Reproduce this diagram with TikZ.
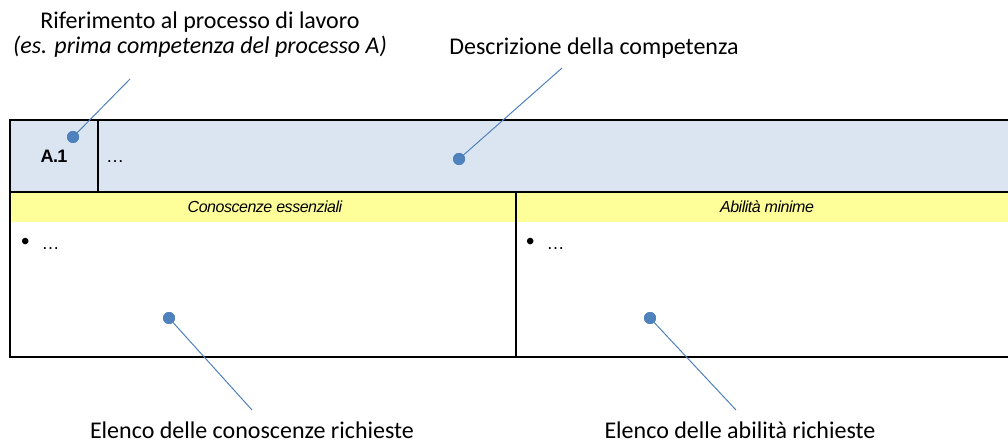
\documentclass[tikz,border=0pt]{standalone}
\usepackage{fontspec}
\setmainfont{Carlito}
\newfontfamily\arialfont{Liberation Sans}
\newfontfamily\arialtight[LetterSpace=-3]{Liberation Sans}
\usetikzlibrary{positioning}
\definecolor{cellblue}{HTML}{DBE5F1}
\definecolor{cellyellow}{HTML}{FFFF99}
\definecolor{pinblue}{HTML}{4F81BD}
\newcommand{\bigbullet}{{\fontsize{24}{24}\selectfont\textbullet}}
\tikzset{
  tableline/.style={line width=1.2pt, black},
  pindot/.style={circle, fill=pinblue, inner sep=0pt, minimum size=12pt},
  pinline/.style={pinblue, line width=1pt},
  remark/.style={font=\fontsize{24}{25}\selectfont, align=center, inner sep=0pt},
  cell/.style={font=\arialfont\fontsize{18}{20}\selectfont, inner sep=0pt},
  cellhead/.style={font=\arialtight\itshape\fontsize{16}{18}\selectfont, inner sep=0pt},
}

\begin{document}
\begin{tikzpicture}[x=1pt, y=-1pt]
    \useasboundingbox (0,0) rectangle (1008,443);
    % Table: fills
    \fill[cellblue] (10,120) rectangle (1008,192);
    \fill[cellyellow] (10,192) rectangle (1008,222);
    % Table: lines
    \draw[tableline] (1008,120) -- (10,120) -- (10,357) -- (1008,357);
    \draw[tableline] (10,192) -- (1008,192);
    \draw[tableline] (98,120) -- (98,192);
    \draw[tableline] (516,192) -- (516,357);
    % Table: texts
    \node[cell, font=\arialtight\bfseries\fontsize{18}{20}\selectfont] (code) at (54,156) {A.1};
    \node[cell, anchor=base west] (descr) at (106,163) {…};
    \node[cellhead] (know) at (265,207) {Conoscenze essenziali};
    \node[cellhead] (skill) at (767,207) {Abilità minime};
    \node[cell, anchor=base west] (knowitem) at (21,250) {\bigbullet\hspace{12pt}…};
    \node[cell, anchor=base west] (skillitem) at (526,250) {\bigbullet\hspace{12pt}…};
    % Callouts
    \node[remark] (ref) at (200,35) {Riferimento al processo di lavoro\\\textit{(es. prima competenza del processo A)}};
    \node[remark, anchor=base] (descrnote) at (594,55) {Descrizione della competenza};
    \node[remark, anchor=base] (knownote) at (252,438) {Elenco delle conoscenze richieste};
    \node[remark, anchor=base] (skillnote) at (740,438) {Elenco delle abilità richieste};
    \coordinate (refend) at (130,79);
    \coordinate (descrend) at (562,68);
    \coordinate (knowend) at (252,410);
    \coordinate (skillend) at (736,410);
    \node[pindot] (refdot) at (73,137) {};
    \node[pindot] (descrdot) at (459,159) {};
    \node[pindot] (knowdot) at (169,318) {};
    \node[pindot] (skilldot) at (650,318) {};
    \draw[pinline] (refdot.center) -- (refend);
    \draw[pinline] (descrdot.center) -- (descrend);
    \draw[pinline] (knowdot.center) -- (knowend);
    \draw[pinline] (skilldot.center) -- (skillend);
    \node[pindot] at (refdot) {};
    \node[pindot] at (descrdot) {};
    \node[pindot] at (knowdot) {};
    \node[pindot] at (skilldot) {};
\end{tikzpicture}
\end{document}
